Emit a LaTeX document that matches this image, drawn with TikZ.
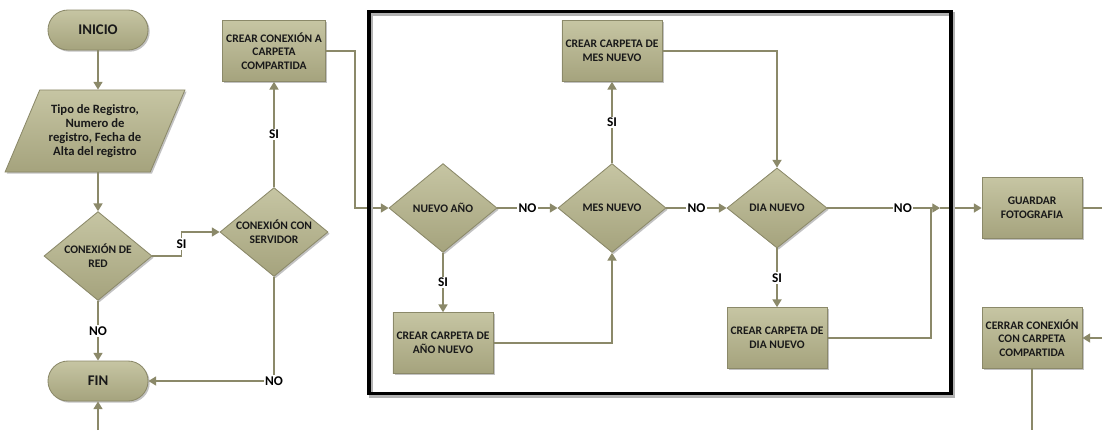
\documentclass[tikz,border=0pt]{standalone}
\usepackage{fontspec}
\setmainfont{Carlito}
\usetikzlibrary{shapes.geometric,arrows.meta,shadows}

\definecolor{olivetop}{HTML}{C6C5A3}
\definecolor{olivebot}{HTML}{A5A37D}
\definecolor{oliveline}{HTML}{8B8969}

\begin{document}
\begin{tikzpicture}[x=0.025cm,y=-0.025cm,
		base/.style={draw=oliveline,line width=0.6pt,top color=olivetop,bottom color=olivebot,
			align=center,text=black!90,inner sep=0pt,font=\fontsize{8.2}{9.8}\selectfont\bfseries,
			drop shadow={shadow xshift=1.2pt,shadow yshift=-1.2pt,fill=black!40,opacity=0.6}},
		term/.style={base,rounded corners=0.5cm,minimum width=2.5cm,minimum height=1cm,
			font=\fontsize{10.5}{12}\selectfont\bfseries},
		proc/.style={base,rectangle,minimum width=2.5cm,minimum height=1.52cm},
		dec/.style={base,diamond,aspect=1.25,minimum width=2.7cm,minimum height=2.22cm},
		io/.style={base,trapezium,trapezium left angle=61,trapezium right angle=119,
			trapezium stretches=true,minimum width=4.5cm,minimum height=2.05cm,
			font=\fontsize{9}{9.8}\selectfont\bfseries},
		flow/.style={draw=oliveline,line width=0.9pt,-{Triangle[length=5.5pt,width=6.5pt]}},
		line/.style={draw=oliveline,line width=0.9pt},
		lbl/.style={fill=white,inner sep=1pt,text=black,font=\fontsize{9.5}{11}\selectfont\bfseries}]
		\useasboundingbox (0,0) rectangle (1102,430);
		
		\node[term] (inicio) at (98,30) {INICIO};
		\node[io] (datos) at (95,131) {Tipo de Registro,\\Numero de\\registro, Fecha de\\Alta del registro};
		\node[dec] (red) at (98,256) {CONEXIÓN DE\\RED};
		\node[term] (fin) at (98,381) {FIN};
		\node[dec] (srv) at (274,232) {CONEXIÓN CON\\SERVIDOR};
		\node[proc,minimum width=2.58cm] (conn) at (274,51) {CREAR CONEXIÓN A\\CARPETA\\COMPARTIDA};
		
		\node[dec] (anio) at (443,208) {NUEVO AÑO};
		\node[dec] (mes) at (612,208) {MES NUEVO};
		\node[dec,minimum width=2.5cm,minimum height=2cm] (dia) at (777,208) {DIA NUEVO};
		\node[proc] (cmes) at (612,51) {CREAR CARPETA DE\\MES NUEVO};
		\node[proc] (canio) at (443,343) {CREAR CARPETA DE\\AÑO NUEVO};
		\node[proc] (cdia) at (777,338) {CREAR CARPETA DE\\DIA NUEVO};
		
		\node[proc] (guardar) at (1032,208) {GUARDAR\\FOTOGRAFIA};
		\node[proc] (cerrar) at (1032,338) {CERRAR CONEXIÓN\\CON CARPETA\\COMPARTIDA};
		
		\coordinate (finin) at (98,430);
		\coordinate (junta) at (940,208);
		\coordinate (subida) at (931,208);
		\coordinate (salida) at (1102,208);
		\coordinate (entrada) at (1102,338);
		\coordinate (abajo) at (1032,430);
		
		\draw[flow] (inicio.south) -- (inicio.south |- datos.north);
		\draw[flow] (datos.south -| red.north) -- (red.north);
		\draw[flow] (red) -- node[lbl]{NO} (fin);
		\draw[flow] (red.east) -- ++(29,0) |- node[lbl,pos=0.25]{SI} (srv.west);
		\draw[flow] (srv) -- node[lbl]{SI} (conn);
		\draw[flow] (srv.south) |- node[lbl,pos=0.5]{NO} (fin.east);
		\draw[flow] (finin) -- (fin);
		\draw[flow] (conn.east) -- ++(29,0) |- (anio.west);
		
		\draw[flow] (anio) -- node[lbl]{NO} (mes);
		\draw[flow] (mes) -- node[lbl]{NO} (dia);
		\draw[flow] (anio) -- node[lbl]{SI} (canio);
		\draw[flow] (canio.east) -| (mes.south);
		\draw[flow] (mes) -- node[lbl]{SI} (cmes);
		\draw[flow] (cmes.east) -| (dia.north);
		\draw[flow] (dia) -- node[lbl]{SI} (cdia);
		\draw[flow] (dia.east) -- node[lbl,pos=0.67]{NO} (junta);
		\draw[line] (cdia.east) -| (subida);
		
		\draw[flow] (junta) -- (guardar.west);
		\draw[line] (guardar) -- (salida);
		\draw[flow] (entrada) -- (cerrar);
		\draw[line] (cerrar) -- (abajo);
		
		% marco del bloque de carpetas
		\draw[line width=2.6pt,black!30] (371,14) rectangle (953,396);
		\draw[line width=2.6pt] (369,11.5) rectangle (951,393.5);
	\end{tikzpicture}
\end{document}
